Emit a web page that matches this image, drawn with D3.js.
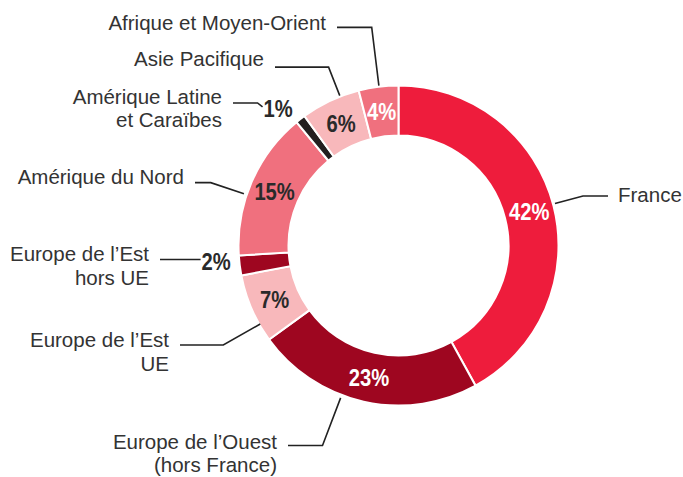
<!DOCTYPE html>
<html>
<head>
<meta charset="utf-8">
<script src="https://cdn.jsdelivr.net/npm/d3@7"></script>
<style>
  body { margin: 0; background: #fff; }
  svg { display: block; }
</style>
</head>
<body>
<div id="chart"></div>
<script>
// slices, clockwise from 12 o'clock
let regions = ["France", "Europe de l’Ouest (hors France)", "Europe de l’Est UE",
    "Europe de l’Est hors UE", "Amérique du Nord", "Amérique Latine et Caraïbes",
    "Asie Pacifique", "Afrique et Moyen-Orient"];
let labelLines = [["France"], ["Europe de l’Ouest", "(hors France)"], ["Europe de l’Est", "UE"],
    ["Europe de l’Est", "hors UE"], ["Amérique du Nord"], ["Amérique Latine", "et Caraïbes"],
    ["Asie Pacifique"], ["Afrique et Moyen-Orient"]];
let shares = [42, 23, 7, 2, 15, 1, 6, 4];

let sliceColors = ['#ee1c3c', '#9e0620', '#f8b8bb', '#9e0620',
    '#f0707e', '#231f20', '#f8b8bb', '#f0707e'];
let pctColors = ['#fff', '#fff', '#2a2a2a', '#2a2a2a', '#2a2a2a', '#2a2a2a', '#2a2a2a', '#fff'];

// leader layout: angle (deg), radial start/elbow, where the horizontal ends
// outside: percent label sits outside the ring, line runs to it
let leaders = [
    {angle: 75,    r0: 162, r1: 191,   endX: 608, dy: 6},
    {angle: 200.8, r0: 163, r1: 214,   endX: 288, dy: 3},
    {angle: 240.4, r0: 159, r1: 201.5, endX: 180, dy: 2},
    {angle: 265,   outside: 183,        endX: 160, dy: 2},
    {angle: 288.5, r0: 163, r1: 198,   endX: 195, dy: 1},
    {angle: 318.6, outside: 182,        endX: 233, dy: 1, kink: true},
    {angle: 338.6, r0: 161, r1: 191.6, endX: 275, dy: -1},
    {angle: 353,   r0: 161, r1: 219.8, endX: 337, dy: 3}
];

let width = 683, height = 477;
let cx = 398.5, cy = 245.5;
let outerR = 160, innerR = 110;

let svg = d3.select('#chart').append('svg')
    .attr('width', width)
    .attr('height', height);

let g = svg.append('g').attr('transform', 'translate(' + cx + ',' + cy + ')');

let pie = d3.pie().sort(null).value(d => d);
let arcs = pie(shares);

let arc_gen = d3.arc().innerRadius(innerR).outerRadius(outerR);

g.selectAll('path')
    .data(arcs)
    .enter()
    .append('path')
    .attr('d', arc_gen)
    .style('fill', (d, i) => sliceColors[i])
    .style('stroke', '#fff')
    .style('stroke-width', 2);

let pctFont = '"Liberation Sans", Arial, sans-serif';
let labelFont = '"Liberation Sans", Arial, sans-serif';
let squeeze = 0.86;   // fake a condensed face

function polar(angleDeg, r) {
    let a = angleDeg * Math.PI / 180;
    return [cx + r * Math.sin(a), cy - r * Math.cos(a)];
}

function pctLabel(x, y, txt, color) {
    return svg.append('text')
        .attr('transform', 'translate(' + x + ',' + y + ') scale(' + squeeze + ',1)')
        .attr('dy', '0.36em')
        .attr('text-anchor', 'middle')
        .style('font-family', pctFont)
        .style('font-weight', 'bold')
        .style('font-size', '23.5px')
        .style('fill', color)
        .text(txt);
}

let line = d3.line();

arcs.forEach(function(d, i) {
    let L = leaders[i];
    let pctText = shares[i] + '%';
    let textY, textX, anchor;

    if (L.outside) {
        // percent label outside the ring
        let p = polar(L.angle, L.outside);
        let t = pctLabel(p[0], p[1], pctText, pctColors[i]);
        let left = p[0] - t.node().getBBox().width * squeeze / 2;
        let ly = p[1] - 2;
        let pts = L.kink
            ? [[L.endX, ly - 4], [left - 6, ly - 4], [left - 1, ly]]
            : [[L.endX, ly], [left - 1, ly]];
        svg.append('path')
            .attr('d', line(pts))
            .style('fill', 'none')
            .style('stroke', '#222')
            .style('stroke-width', 1.6);
        textY = (L.kink ? ly - 4 : ly) + L.dy;
        textX = L.endX - 11;
        anchor = 'end';
    } else {
        let c = arc_gen.centroid(d);
        pctLabel(cx + c[0], cy + c[1], pctText, pctColors[i]);
        let p0 = polar(L.angle, L.r0), p1 = polar(L.angle, L.r1);
        svg.append('path')
            .attr('d', line([p0, p1, [L.endX, p1[1]]]))
            .style('fill', 'none')
            .style('stroke', '#222')
            .style('stroke-width', 1.6);
        textY = p1[1] + L.dy;
        if (L.endX > cx) {
            textX = L.endX + 10;
            anchor = 'start';
        } else {
            textX = L.endX - 11;
            anchor = 'end';
        }
    }

    // region name
    let t = svg.append('text')
        .attr('x', textX).attr('y', textY)
        .attr('text-anchor', anchor)
        .style('font-family', labelFont)
        .style('font-size', '20.5px')
        .style('fill', '#333');
    labelLines[i].forEach(function(s, k) {
        t.append('tspan')
            .attr('x', textX)
            .attr('y', textY + k * 23.5)
            .text(s);
    });
});
</script>
</body>
</html>
